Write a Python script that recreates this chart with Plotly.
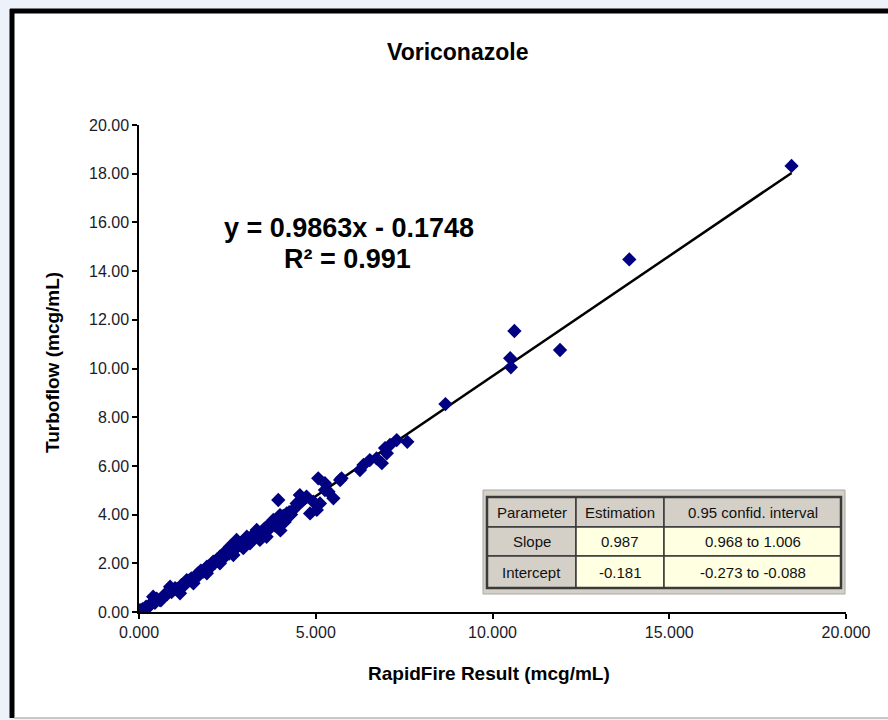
import plotly.graph_objects as go

# ---------------- data ----------------
rapidfire = [
    18.46, 13.87, 10.62, 10.50, 10.52, 11.91, 8.67, 7.59, 7.29, 7.10,
    6.96, 7.01, 6.87, 6.72, 6.53, 6.35, 6.25, 5.73, 5.69, 5.07,
    5.26, 5.26, 5.50, 5.36, 4.74, 4.93, 5.03, 4.84, 4.60, 4.55,
    4.46, 5.12, 3.94, 3.99, 4.18, 3.80, 3.75, 3.61, 3.61, 3.42,
    3.33, 3.14, 3.05, 2.86, 2.76, 2.67, 2.67, 2.57, 2.57, 2.39,
    2.29, 2.29, 2.10, 1.92, 1.92, 1.82, 1.54, 1.35, 1.16, 0.97,
    0.88, 0.59, 0.40, 0.31, 0.03, 0.03, 0.00, 0.05, 0.10, 0.15,
    0.20, 0.25, 0.45, 0.50, 0.65, 0.72, 0.80, 0.85, 1.02, 1.08,
    1.20, 1.25, 1.42, 1.48, 1.60, 1.66, 1.70, 1.75, 1.88, 2.00,
    2.05, 2.15, 2.20, 2.35, 2.45, 2.50, 2.62, 2.70, 2.80, 2.92,
    2.98, 3.10, 3.20, 3.25, 3.38, 3.48, 3.55, 3.68, 3.72, 3.85,
    3.90, 4.02, 4.08, 4.12, 4.25, 4.30, 4.40, 4.00, 3.50, 2.95,
    0.35, 0.62, 0.92, 1.30, 1.58, 1.98, 2.25, 2.55, 3.02, 3.30,
]
turboflow = [
    18.32, 14.48, 11.54, 10.42, 10.05, 10.76, 8.54, 6.99, 7.06, 6.86,
    6.73, 6.52, 6.11, 6.31, 6.24, 6.04, 5.83, 5.49, 5.42, 5.49,
    5.29, 5.01, 4.67, 4.94, 4.74, 4.53, 4.19, 4.05, 4.53, 4.80,
    4.46, 4.46, 4.60, 3.98, 4.05, 3.78, 3.64, 3.50, 3.09, 2.96,
    3.37, 2.82, 3.09, 2.82, 2.96, 2.68, 2.34, 2.68, 2.55, 2.41,
    2.27, 2.00, 2.07, 1.86, 1.59, 1.66, 1.18, 1.31, 0.77, 0.90,
    1.04, 0.49, 0.63, 0.29, 0.08, 0.01, 0.00, 0.02, 0.12, 0.10,
    0.22, 0.18, 0.38, 0.55, 0.60, 0.70, 0.74, 0.88, 0.98, 0.95,
    1.10, 1.05, 1.30, 1.38, 1.45, 1.58, 1.52, 1.70, 1.74, 1.85,
    1.96, 2.02, 2.15, 2.20, 2.30, 2.45, 2.50, 2.58, 2.70, 2.75,
    2.90, 2.95, 3.05, 3.20, 3.18, 3.30, 3.42, 3.40, 3.58, 3.55,
    3.70, 3.80, 3.95, 3.70, 4.10, 4.00, 4.25, 3.35, 3.22, 2.62,
    0.36, 0.48, 0.82, 1.17, 1.40, 1.78, 2.08, 2.40, 2.80, 3.12,
]

trend_slope = 0.9863
trend_intercept = -0.1748
r_squared = 0.991

chart_title = "Voriconazole"
x_title = "RapidFire Result (mcg/mL)"
y_title = "Turboflow (mcg/mL)"

table_header = ["Parameter", "Estimation", "0.95 confid. interval"]
table_rows = [
    ["Slope", "0.987", "0.968 to 1.006"],
    ["Intercept", "-0.181", "-0.273 to -0.088"],
]

# ---------------- layout helpers (pixel -> paper) ----------------
PL, PR, PT, PB = 139, 846, 125, 612


def px(x):
    return (x - PL) / (PR - PL)


def py(y):
    return (PB - y) / (PB - PT)


FONT = "Arial, Liberation Sans, sans-serif"

fig = go.Figure()

# trendline
x_min, x_max = min(rapidfire), max(rapidfire)
fig.add_trace(go.Scatter(
    x=[x_min, x_max],
    y=[trend_slope * x_min + trend_intercept, trend_slope * x_max + trend_intercept],
    mode="lines", line=dict(color="black", width=2.5), hoverinfo="skip",
    showlegend=False,
))

fig.add_trace(go.Scatter(
    x=rapidfire, y=turboflow, mode="markers",
    marker=dict(symbol="diamond", size=11, color="#000080", line=dict(width=0)),
    showlegend=False,
))

shapes = []
# white chart panel with black border (left/top), grey bottom
shapes.append(dict(type="rect", xref="paper", yref="paper", x0=px(10), x1=px(900),
                   y0=py(718), y1=py(9), fillcolor="white", line=dict(width=0), layer="below"))
shapes.append(dict(type="line", xref="paper", yref="paper", x0=px(12), x1=px(12),
                   y0=py(718), y1=py(9), line=dict(color="black", width=5)))
shapes.append(dict(type="line", xref="paper", yref="paper", x0=px(10), x1=px(900),
                   y0=py(11), y1=py(11), line=dict(color="black", width=5)))
shapes.append(dict(type="line", xref="paper", yref="paper", x0=px(14), x1=px(900),
                   y0=py(718), y1=py(718), line=dict(color="#b8b8b8", width=1.5)))

# table
GRAY = "#d4d0c8"
YEL = "#ffffe1"
DARK = "#3a3a3a"
shapes.append(dict(type="rect", xref="paper", yref="paper", x0=px(483), x1=px(845),
                   y0=py(594), y1=py(490), fillcolor=GRAY, line=dict(color="#a8a8a8", width=1)))
col_edges = [487, 576, 664, 841]
row_edges = [497, 527, 556, 588]
for r in range(3):
    for c in range(3):
        fill = GRAY if (r == 0 or c == 0) else YEL
        shapes.append(dict(type="rect", xref="paper", yref="paper",
                           x0=px(col_edges[c]), x1=px(col_edges[c + 1]),
                           y0=py(row_edges[r + 1]), y1=py(row_edges[r]),
                           fillcolor=fill, line=dict(color=DARK, width=1.5)))
shapes.append(dict(type="rect", xref="paper", yref="paper", x0=px(487), x1=px(841),
                   y0=py(588), y1=py(497), line=dict(color=DARK, width=2.5)))

annotations = []
all_rows = [table_header] + table_rows
for r, row in enumerate(all_rows):
    for c, txt in enumerate(row):
        annotations.append(dict(
            xref="paper", yref="paper",
            x=px((col_edges[c] + col_edges[c + 1]) / 2),
            y=py((row_edges[r] + row_edges[r + 1]) / 2),
            text=txt, showarrow=False, xanchor="center", yanchor="middle",
            font=dict(family=FONT, size=15, color="#111"),
        ))

# equation
annotations.append(dict(xref="paper", yref="paper", x=px(349), y=py(228),
                        text=f"y = {trend_slope:.4f}x - {abs(trend_intercept):.4f}",
                        showarrow=False, xanchor="center", yanchor="middle",
                        font=dict(family=FONT, size=27, color="black", weight="bold")))
annotations.append(dict(xref="paper", yref="paper", x=px(347), y=py(259),
                        text=f"R² = {r_squared:.3f}",
                        showarrow=False, xanchor="center", yanchor="middle",
                        font=dict(family=FONT, size=27, color="black", weight="bold")))

# title and axis titles
annotations.append(dict(xref="paper", yref="paper", x=px(457), y=py(52),
                        text=chart_title, showarrow=False, xanchor="center", yanchor="middle",
                        font=dict(family=FONT, size=23, color="black", weight="bold")))
annotations.append(dict(xref="paper", yref="paper", x=px(489), y=py(673),
                        text=x_title, showarrow=False, xanchor="center", yanchor="middle",
                        font=dict(family=FONT, size=19, color="black", weight="bold")))
annotations.append(dict(xref="paper", yref="paper", x=px(52), y=py(363),
                        text=y_title, showarrow=False, xanchor="center", yanchor="middle",
                        textangle=-90,
                        font=dict(family=FONT, size=19, color="black", weight="bold")))

fig.update_layout(
    width=888, height=720,
    margin=dict(l=PL, r=888 - PR, t=PT, b=720 - PB),
    paper_bgcolor="#edf2fa", plot_bgcolor="rgba(0,0,0,0)",
    shapes=shapes, annotations=annotations,
    showlegend=False,
    xaxis=dict(range=[0, 20], dtick=5, tick0=0, tickformat=".3f", showgrid=False, zeroline=False,
               showline=True, linecolor="black", linewidth=1.5, ticks="outside", ticklen=5,
               tickcolor="black", tickwidth=1.5, tickfont=dict(family=FONT, size=16, color="#1a1a2a")),
    yaxis=dict(range=[0, 20], dtick=2, tick0=0, tickformat=".2f", showgrid=False, zeroline=False,
               showline=True, linecolor="black", linewidth=1.5, ticks="outside", ticklen=5,
               tickcolor="black", tickwidth=1.5, tickfont=dict(family=FONT, size=16, color="#1a1a2a")),
)

fig.write_html(
    "out.html",
    config={"displayModeBar": False},
    post_script="document.body.style.margin='0';document.body.style.background='#edf2fa';",
)
